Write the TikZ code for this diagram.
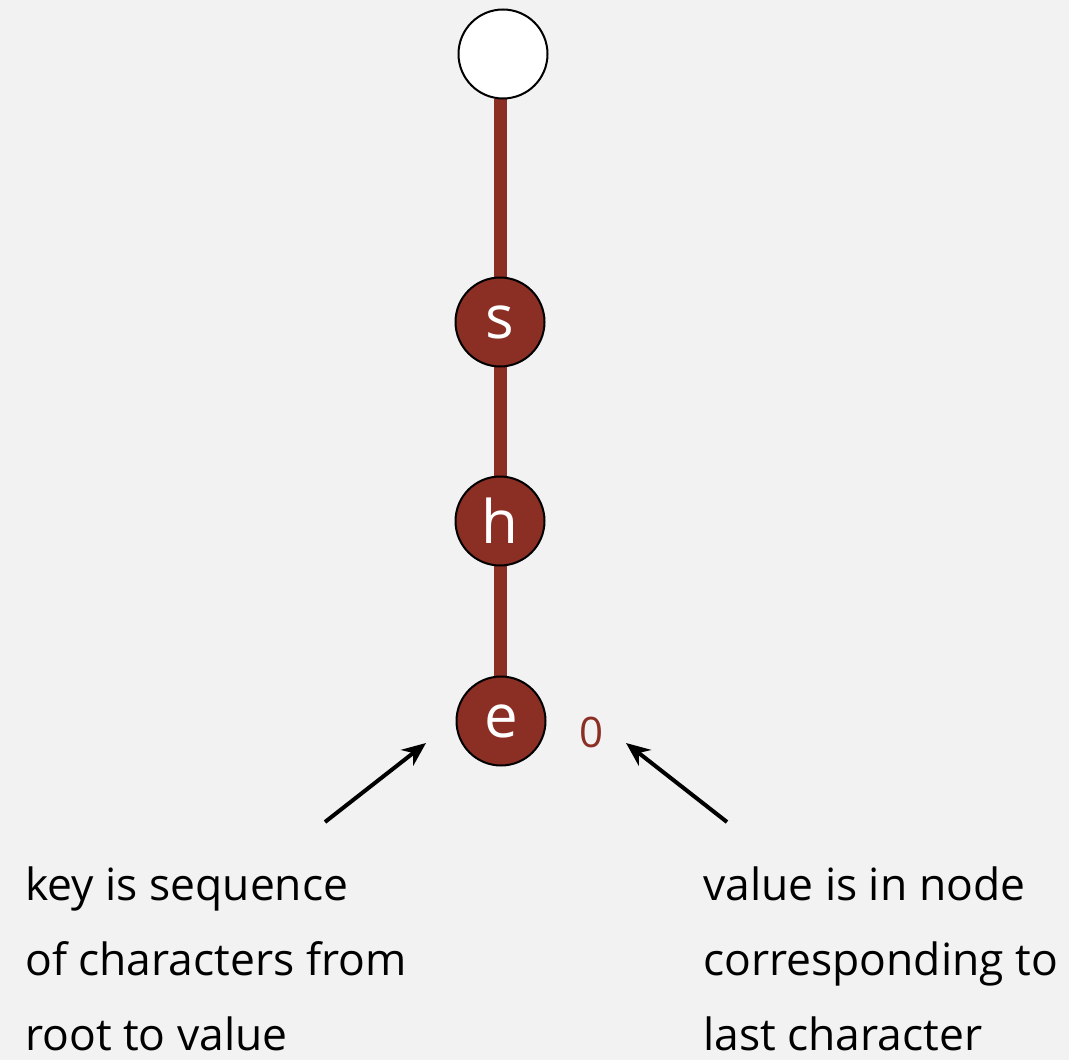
\documentclass[tikz,border=0pt]{standalone}
\usepackage{fontspec}
\setmainfont{Open Sans}
\usetikzlibrary{arrows.meta}
\definecolor{bg}{HTML}{F2F2F2}
\definecolor{trie}{HTML}{8B2E23}
\begin{document}
\begin{tikzpicture}[x=1pt,y=-1pt,
  trienode/.style={circle,draw=black,line width=2pt,fill=trie,minimum size=89pt,inner sep=0pt,text=white,font=\fontsize{60}{60}\selectfont},
  rootnode/.style={circle,draw=black,line width=2pt,fill=white,minimum size=89pt,inner sep=0pt},
  link/.style={draw=trie,line width=13pt},
  note/.style={anchor=base west,inner sep=0pt,font=\fontsize{44.4}{44.4}\selectfont},
  pointer/.style={draw=black,line width=4pt,-{Stealth[length=24pt,width=20pt]}}]
\fill[bg] (0,0) rectangle (1069,1060);
\useasboundingbox (0,0) rectangle (1069,1060);
\draw[link] (500,99) -- (500,720);
\node[rootnode] (root) at (503,54) {};
\node[trienode] (s) at (500,322) {s};
\node[trienode] (h) at (500,521) {h};
\node[trienode] (e) at (501,721) {e};
\node[text=trie,font=\fontsize{42}{42}\selectfont,inner sep=0pt] (val) at (592,732) {0};
\coordinate (a1s) at (325,822);
\coordinate (a1e) at (426,743);
\coordinate (a2s) at (727,822);
\coordinate (a2e) at (626,743);
\draw[pointer] (a1s) -- (a1e);
\draw[pointer] (a2s) -- (a2e);
\node[note] (k1) at (25,900) {key is sequence};
\node[note] (k2) at (25,975) {of characters from};
\node[note] (k3) at (25,1050) {root to value};
\node[note] (v1) at (703,900) {value is in node};
\node[note] (v2) at (703,975) {corresponding to};
\node[note] (v3) at (703,1050) {last character};
\end{tikzpicture}
\end{document}
